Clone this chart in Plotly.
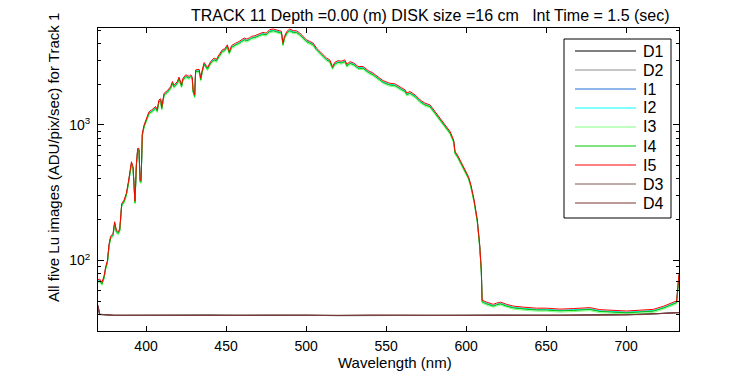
import plotly.graph_objects as go

# ---------------- data ----------------
wavelength = [370, 371, 372.5, 373.8, 374.8, 375.9, 376.9, 377.9, 379.4, 380.4, 381.5, 382.7, 383.6,
              384.2, 384.8, 386.3, 387.7, 389, 389.8, 390.9, 391.9, 392.7, 393.1, 394, 394.8, 395.6,
              396.3, 396.9, 397.3, 397.7, 398.8, 399.8, 400.9, 401.9, 403.6, 405, 406, 407, 408.1,
              409.2, 409.8, 411.3, 413.4, 415.4, 416.5, 417.5, 419.6, 420.6, 422.2, 423, 424.8, 426.9,
              428, 428.9, 429.4, 430.4, 431, 433.2, 434.2, 435, 436.3, 438.4, 440.4, 442.5, 444, 445.6,
              447.7, 449.3, 450.8, 452, 453.5, 456.1, 458.2, 461.3, 463, 464.8, 465.9, 468, 471.5, 473,
              475, 477.3, 479.5, 481.5, 484.6, 485.6, 486.5, 488, 489.8, 492, 494, 496, 498.1, 500.2,
              502.3, 504.4, 506.5, 508.6, 510.6, 512.8, 514.8, 516.5, 518, 520, 522, 524.2, 525.5,
              527.5, 530, 532.5, 535.6, 538.8, 541.9, 545, 548.1, 551.3, 552.4, 555.5, 558.6, 561.8,
              563, 564.9, 568.1, 571.2, 574.3, 577.4, 580.6, 583.7, 586.9, 590, 592.2, 593.1, 594.6,
              596.2, 598.4, 600.4, 601.5, 603, 605, 607, 608.5, 609.5, 610, 612.8, 616.9, 619, 621.5,
              625.3, 629.4, 635.6, 644, 650.3, 658.6, 667, 677.3, 683.5, 691.9, 700.2, 708.5, 716.9,
              723.1, 727.3, 731.5, 733]

lu_I5 = [72, 73, 69, 77, 90, 100, 132, 151, 158, 193, 167, 163, 172,
         229, 263, 279, 313, 381, 440, 535, 492, 313, 275, 521, 673, 670,
         393, 390, 617, 868, 1000, 1089, 1186, 1254, 1291, 1328, 1368, 1300, 1531,
         1560, 1352, 1714, 1794, 1919, 2090, 1960, 2090, 2250, 1977, 2200, 2343, 2280,
         2343, 2250, 1815, 1667, 2548, 2570, 2213, 2500, 2884, 2650, 2937, 3112, 3050, 3291,
         3584, 3650, 3900, 3483, 3850, 4016, 4130, 4375, 4300, 4400, 4500, 4550, 4770, 4820,
         4750, 5040, 5100, 5040, 4900, 4016, 4500, 4900, 5100, 4950, 4950, 4770, 4500, 4246,
         4130, 4016, 3690, 3483, 3290, 3112, 3020, 2697, 2900, 2980, 2950, 3020, 2800,
         2930, 2850, 2697, 2697, 2518, 2409, 2275, 2124, 2050, 2030, 2009, 1919, 1815,
         1720, 1763, 1667, 1531, 1446, 1406, 1254, 1121, 1000, 893, 774, 635, 600,
         551, 498, 452, 415, 361, 279, 199, 130, 85, 51, 49.3, 47.5, 48.5, 49.3,
         47.5, 46.1, 45.3, 44.5, 44.5, 43.8, 44.2, 44.9, 43.4, 42.7, 42.4, 43.0, 43.6,
         45.9, 48.1, 50.3, 80]

# relative level of each illuminated channel with respect to I5 (read from the offsets)
light_names = ["I1", "I2", "I3", "I4", "I5"]
light_gain = [0.975, 0.98, 0.95, 0.97, 1.00]

dark_wl = [370, 371, 380, 400, 420, 440, 460, 480, 500, 520, 540, 560, 580, 600, 620, 640, 660,
           680, 700, 710, 720, 728, 733]
dark_D1 = [46, 40, 39.3, 39.5, 39.2, 39.6, 39.3, 39.5, 39.4, 39.2, 39.5, 39.3, 39.4, 39.6, 39.3,
           39.5, 39.4, 39.6, 39.8, 40.0, 40.5, 41.0, 41.3]
dark_D2 = [45, 39.8, 39.5, 39.3, 39.5, 39.4, 39.6, 39.3, 39.5, 39.4, 39.3, 39.6, 39.5, 39.3, 39.5,
           39.4, 39.6, 39.4, 39.7, 40.1, 40.4, 40.9, 41.2]
dark_D3 = [47, 40.2, 39.4, 39.6, 39.4, 39.3, 39.5, 39.6, 39.3, 39.5, 39.4, 39.5, 39.3, 39.5, 39.6,
           39.3, 39.5, 39.5, 39.8, 39.9, 40.6, 41.1, 41.4]
dark_D4 = [46, 40.1, 39.5, 39.4, 39.6, 39.5, 39.4, 39.4, 39.6, 39.3, 39.6, 39.4, 39.5, 39.4, 39.4,
           39.6, 39.3, 39.6, 39.7, 40.0, 40.5, 41.0, 41.3]

x_ticks = [400, 450, 500, 550, 600, 650, 700]
y_major = [100, 1000]
y_major_text = ["10<sup>2</sup>", "10<sup>3</sup>"]
y_minor = [40, 50, 60, 70, 80, 90, 200, 300, 400, 500, 600, 700, 800, 900, 2000, 3000, 4000, 5000]

legend_names = ["D1", "D2", "I1", "I2", "I3", "I4", "I5", "D3", "D4"]

title_text = "TRACK 11 Depth =0.00 (m) DISK size =16 cm &nbsp; Int Time = 1.5 (sec)"
x_title = "Wavelength (nm)"
y_title = "All five Lu images (ADU/pix/sec) for Track 1"

# ---------------- styling ----------------
colors = {"D1": "#000000", "D2": "#8c8c8c", "I1": "#1f6fd6", "I2": "#00ffff", "I3": "#80ff80",
          "I4": "#00c800", "I5": "#ff0000", "D3": "#805656", "D4": "#7a3535"}
FONT = "Liberation Sans, Arial, sans-serif"

fig = go.Figure()


def add_dark(name, vals):
    fig.add_trace(go.Scatter(x=dark_wl, y=vals, mode="lines", name=name,
                             line=dict(color=colors[name], width=1), showlegend=False))


add_dark("D1", dark_D1)
add_dark("D2", dark_D2)
for name, g in zip(light_names, light_gain):
    fig.add_trace(go.Scatter(x=wavelength, y=[v * g for v in lu_I5], mode="lines", name=name,
                             line=dict(color=colors[name], width=1), showlegend=False))
add_dark("D3", dark_D3)
add_dark("D4", dark_D4)

# page has an 8px body margin: the figure is placed at (8, 8) in the window
OFF = 8
W, H = 750 - OFF, 375 - OFF
L, R, T, B = 98 - OFF, 71, 28 - OFF, 44
pw, ph = W - L - R, H - T - B


def page_to_paper(x, y):
    # x, y in window pixels
    return (x - OFF - L) / pw, (H - B - (y - OFF)) / ph


shapes = []
annotations = []
# legend box drawn by hand so the sample lines match the reference length
x0, y0 = page_to_paper(564, 39)
x1, y1 = page_to_paper(671, 218)
shapes.append(dict(type="rect", xref="paper", yref="paper", x0=x0, y0=y1, x1=x1, y1=y0,
                   line=dict(color="black", width=1), fillcolor="white", layer="above"))
for i, name in enumerate(legend_names):
    yy = 51 + 19 * i
    lx0, ly = page_to_paper(575, yy)
    lx1, _ = page_to_paper(636, yy)
    shapes.append(dict(type="line", xref="paper", yref="paper", x0=lx0, x1=lx1, y0=ly, y1=ly,
                       line=dict(color=colors[name], width=1), layer="above"))
    tx, _ = page_to_paper(641, yy)
    annotations.append(dict(text=name, xref="paper", yref="paper", x=tx, y=ly, xanchor="left",
                            yanchor="middle", showarrow=False,
                            font=dict(family=FONT, size=16, color="black")))

tx, ty = page_to_paper(189, 16)
annotations.append(dict(text=title_text, xref="paper", yref="paper", x=tx, y=ty, xanchor="left",
                        yanchor="middle", showarrow=False,
                        font=dict(family=FONT, size=16, color="black")))
tx, ty = page_to_paper(395, 362)
annotations.append(dict(text=x_title, xref="paper", yref="paper", x=tx, y=ty, xanchor="center",
                        yanchor="middle", showarrow=False,
                        font=dict(family=FONT, size=15, color="black")))
tx, ty = page_to_paper(53, 158)
annotations.append(dict(text=y_title, xref="paper", yref="paper", x=tx, y=ty, xanchor="center",
                        yanchor="middle", showarrow=False, textangle=-90,
                        font=dict(family=FONT, size=15, color="black")))

fig.update_layout(
    width=W, height=H,
    margin=dict(l=L, r=R, t=T, b=B, pad=0, autoexpand=False),
    paper_bgcolor="white", plot_bgcolor="white",
    shapes=shapes, annotations=annotations,
    showlegend=False,
    xaxis=dict(range=[370, 733], tickvals=x_ticks, ticks="inside", ticklen=5, tickcolor="black",
               showline=True, linecolor="black", linewidth=1, mirror="allticks", showgrid=False,
               zeroline=False, automargin=False, ticklabelstandoff=2,
               tickfont=dict(family=FONT, size=14, color="black")),
    yaxis=dict(type="log", range=[1.48, 3.715], tickmode="array", tickvals=y_major,
               ticktext=y_major_text, ticks="inside", ticklen=6, tickcolor="black",
               showline=True, linecolor="black", linewidth=1, mirror="allticks", showgrid=False,
               zeroline=False, automargin=False, ticklabelstandoff=4,
               tickfont=dict(family=FONT, size=14, color="black"),
               minor=dict(tickmode="array", tickvals=y_minor, ticks="inside", ticklen=3,
                          tickcolor="black", showgrid=False)),
)

fig.write_html("out.html")
